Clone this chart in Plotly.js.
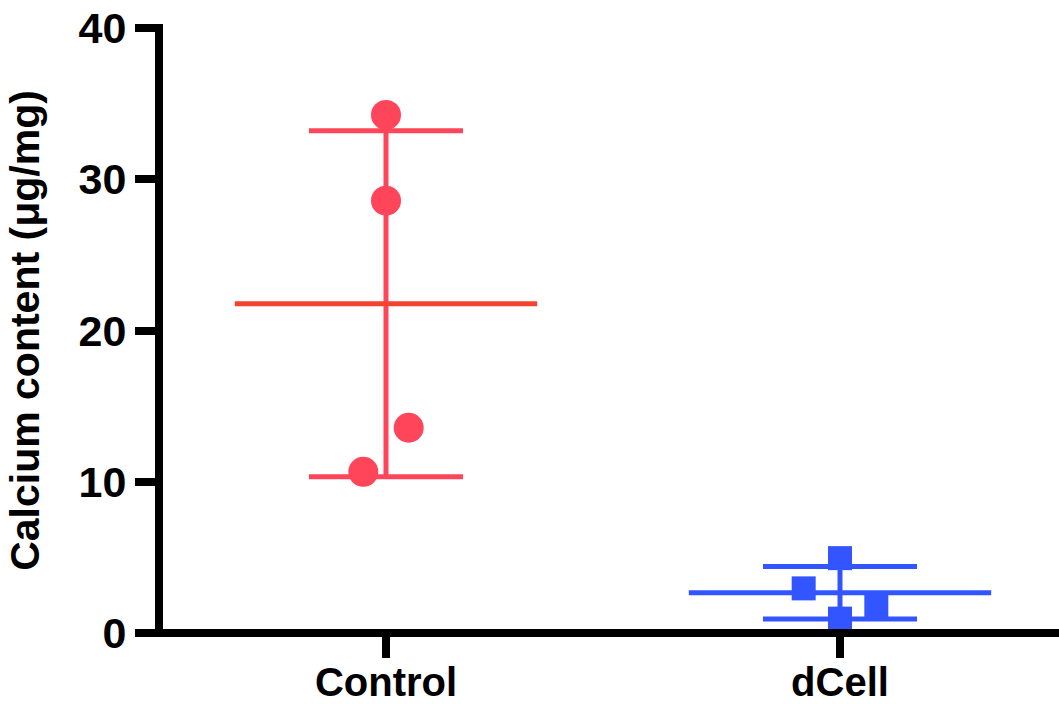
<!DOCTYPE html>
<html>
<head>
<meta charset="utf-8">
<script src="https://cdn.plot.ly/plotly-3.0.1.min.js"></script>
<style>html,body{margin:0;padding:0;background:#fff;}#chart{width:1059px;height:704px;}</style>
</head>
<body>
<div id="chart"></div>
<script>
// ---- data ----
var categories = ['Control', 'dCell'];
var categoryPos = [1, 2];
var controlValues = [34.25, 28.58, 13.57, 10.66];
var controlJitter = [0, 0, 0.05, -0.05];
var dcellValues = [4.95, 2.95, 1.8, 0.95];
var dcellJitter = [0, -0.08, 0.08, 0];
var yTickVals = [0, 10, 20, 30, 40];
var yTitle = 'Calcium content (μg/mg)';

// ---- helpers ----
function mean(a) { return a.reduce(function (s, v) { return s + v; }, 0) / a.length; }
function sd(a) {
  var m = mean(a);
  return Math.sqrt(a.reduce(function (s, v) { return s + (v - m) * (v - m); }, 0) / (a.length - 1));
}

var groups = [
  { pos: categoryPos[0], vals: controlValues, jit: controlJitter, color: '#FF455A', meanColor: '#F4432F', symbol: 'circle', size: 30 },
  { pos: categoryPos[1], vals: dcellValues, jit: dcellJitter, color: '#3355FF', meanColor: '#3355FF', symbol: 'square', size: 24 }
];

var FONT = 'Arial, "Liberation Sans", Helvetica, sans-serif';
var traces = [];
var halfMean = 0.333;

groups.forEach(function (g) {
  var m = mean(g.vals), s = sd(g.vals);
  // SD error bar
  traces.push({
    type: 'scatter', mode: 'markers', x: [g.pos], y: [m],
    marker: { size: 1, color: 'rgba(0,0,0,0)' },
    error_y: { type: 'data', array: [s], symmetric: true, color: g.color, thickness: 5, width: 77 },
    showlegend: false, hoverinfo: 'skip'
  });
  // mean line
  traces.push({
    type: 'scatter', mode: 'lines', x: [g.pos - halfMean, g.pos + halfMean], y: [m, m],
    line: { color: g.meanColor, width: 5 }, showlegend: false, hoverinfo: 'skip'
  });
});
groups.forEach(function (g) {
  traces.push({
    type: 'scatter', mode: 'markers',
    x: g.vals.map(function (v, i) { return g.pos + g.jit[i]; }),
    y: g.vals,
    marker: { symbol: g.symbol, size: g.size, color: g.color, line: { width: 0 } },
    showlegend: false, cliponaxis: false
  });
});

var plotH = 704 - 28 - 71, plotW = 1059 - 159;
var layout = {
  width: 1059, height: 704,
  margin: { l: 159, r: 0, t: 28, b: 71 },
  paper_bgcolor: '#fff', plot_bgcolor: '#fff',
  showlegend: false,
  xaxis: {
    range: [0.5, 0.5 + plotW / 454],
    tickvals: categoryPos, ticktext: categories,
    showgrid: false, zeroline: false, showline: false,
    ticks: 'outside', ticklen: 24, tickwidth: 8, tickcolor: '#000',
    ticklabelstandoff: -10,
    tickfont: { family: FONT, size: 40, color: '#000', weight: 'bold' }
  },
  yaxis: {
    range: [0, 40],
    tickvals: yTickVals, ticktext: yTickVals.map(String),
    showgrid: false, zeroline: false, showline: false,
    ticks: 'outside', ticklen: 23, tickwidth: 8, tickcolor: '#000',
    tickfont: { family: FONT, size: 43, color: '#000', weight: 'bold' },
    title: { text: yTitle, font: { family: FONT, size: 41, color: '#000', weight: 'bold' }, standoff: 26 }
  },
  shapes: [
    { type: 'line', xref: 'paper', yref: 'paper', x0: 0, x1: 0, y0: -4 / plotH, y1: 1 + 4 / plotH, line: { color: '#000', width: 8 } },
    { type: 'line', xref: 'paper', yref: 'paper', x0: -4 / plotW, x1: 1, y0: 0, y1: 0, line: { color: '#000', width: 8 } }
  ]
};

Plotly.newPlot('chart', traces, layout, { staticPlot: true, displayModeBar: false });
</script>
</body>
</html>
